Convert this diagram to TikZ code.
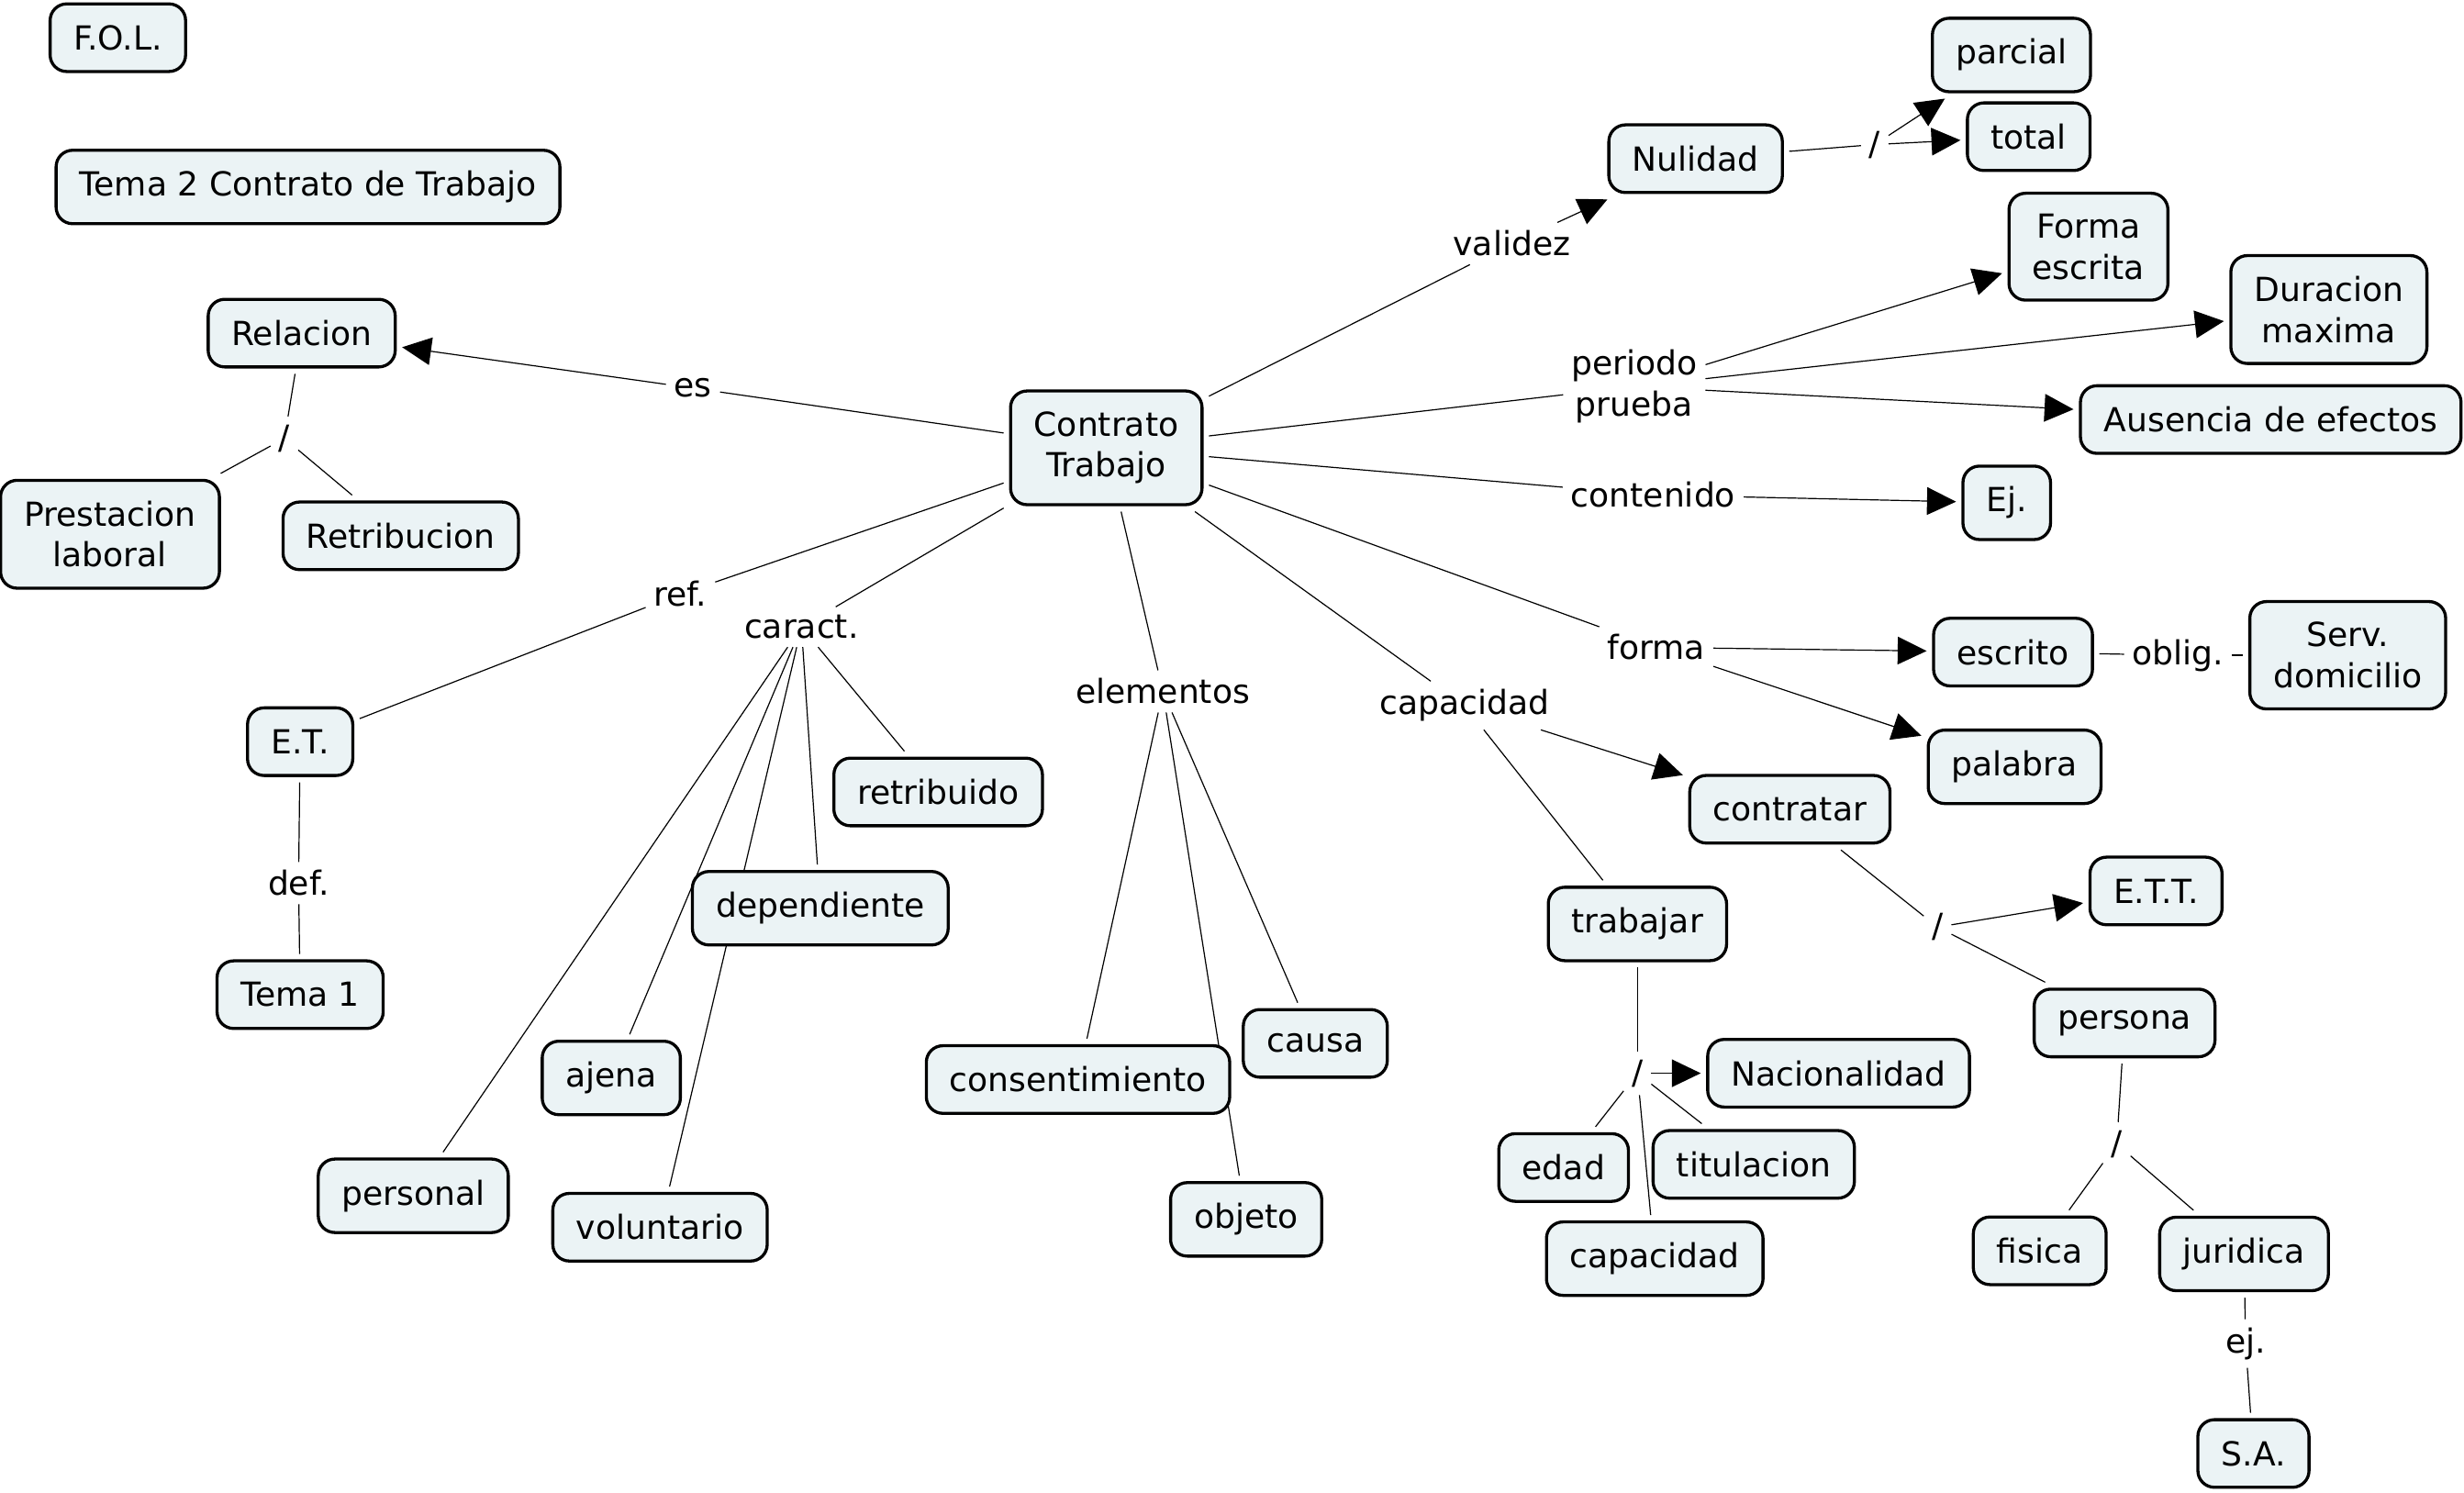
\documentclass[tikz,border=0pt]{standalone}
\usepackage{fontspec}
\setmainfont{DejaVu Sans}
\usetikzlibrary{arrows.meta,backgrounds}

\definecolor{conceptfill}{RGB}{235,243,245}

\tikzset{concept/.style={draw, rounded corners=6pt, fill=conceptfill,
           line width=1.1pt, inner xsep=8.5pt, inner ysep=7.5pt,
           minimum height=24.5pt, align=center, outer sep=2.5pt},
         linkword/.style={inner sep=2.5pt, align=center},
         arr/.style={-{Triangle[length=10.5pt,width=10pt]}}}

\begin{document}
\begin{tikzpicture}[
    x = 0.02cm, y = -0.02cm,
    line width = 1pt,
    every node/.style = {font = \fontsize{12}{14.8}\selectfont}
  ]
  \useasboundingbox (0,0) rectangle (1568,949.6);
  % concepts
  \node[concept] (fol) at (75,24) {F.O.L.};
  \node[concept] (tema) at (196,119) {Tema 2 Contrato de Trabajo};
  \node[concept] (relacion) at (192,212) {Relacion};
  \node[concept] (prestacion) at (70,340) {Prestacion\\laboral};
  \node[concept] (retribucion) at (255,341) {Retribucion};
  \node[concept] (contrato) at (704,285) {Contrato\\Trabajo};
  \node[concept] (et) at (191,472) {E.T.};
  \node[concept] (tema1) at (191,633) {Tema 1};
  \node[concept] (retribuido) at (597,504) {retribuido};
  \node[concept] (dependiente) at (522,578) {dependiente};
  \node[concept] (ajena) at (389,686) {ajena};
  \node[concept] (personal) at (263,761) {personal};
  \node[concept] (voluntario) at (420,781) {voluntario};
  \node[concept] (consentimiento) at (686,687) {consentimiento};
  \node[concept] (causa) at (837,664) {causa};
  \node[concept] (objeto) at (793,776) {objeto};
  \node[concept] (nulidad) at (1079,101) {Nulidad};
  \node[concept] (parcial) at (1280,35) {parcial};
  \node[concept] (total) at (1291,87) {total};
  \node[concept] (formaescrita) at (1329,157) {Forma\\escrita};
  \node[concept] (duracion) at (1482,197) {Duracion\\maxima};
  \node[concept] (ausencia) at (1445,267) {Ausencia de efectos};
  \node[concept] (ej) at (1277,320) {Ej.};
  \node[concept] (escrito) at (1281,415) {escrito};
  \node[concept] (serv) at (1494,417) {Serv.\\domicilio};
  \node[concept] (palabra) at (1282,488) {palabra};
  \node[concept] (contratar) at (1139,515) {contratar};
  \node[concept] (ett) at (1372,567) {E.T.T.};
  \node[concept] (trabajar) at (1042,588) {trabajar};
  \node[concept] (persona) at (1352,651) {persona};
  \node[concept] (nacionalidad) at (1170,683) {Nacionalidad};
  \node[concept] (edad) at (995,743) {edad};
  \node[concept] (titulacion) at (1116,741) {titulacion};
  \node[concept] (capacidad) at (1053,801) {capacidad};
  \node[concept] (fisica) at (1298,796) {fisica};
  \node[concept] (juridica) at (1428,798) {juridica};
  \node[concept] (sa) at (1434,925) {S.A.};
  % linking words
  \node[linkword] (es) at (441,247) {es};
  \node[linkword] (o1) at (181,279) {/};
  \node[linkword] (ref) at (433,378) {ref.};
  \node[linkword] (def) at (190,562) {def.};
  \node[linkword] (caract) at (510,399) {caract.};
  \node[linkword] (elementos) at (740,440) {elementos};
  \node[linkword] (capw) at (932,449) {capacidad};
  \node[linkword] (forma) at (1054,412) {forma};
  \node[linkword] (oblig) at (1386,417) {oblig.};
  \node[linkword] (contenido) at (1052,315) {contenido};
  \node[linkword] (periodo) at (1040,246) {periodo\\prueba};
  \node[linkword] (validez) at (962,155) {validez};
  \node[linkword] (o2) at (1193,92) {/};
  \node[linkword] (o3) at (1233,590) {/};
  \node[linkword] (o4) at (1347,728) {/};
  \node[linkword] (o5) at (1042,683) {/};
  \node[linkword] (ejw) at (1429,855) {ej.};
  % connectors
  \begin{pgfonlayer}{background}
    \fill[white] (0,0) rectangle (1568,949.6);
    \draw (contrato) -- (es);
    \draw[arr] (es) -- (relacion);
    \draw (relacion) -- (o1);
    \draw (o1) -- (prestacion);
    \draw (o1) -- (retribucion);
    \draw (contrato) -- (ref);
    \draw (ref) -- (et);
    \draw (et) -- (def);
    \draw (def) -- (tema1);
    \draw (contrato) -- (caract);
    \foreach \n in {retribuido, dependiente, ajena, personal, voluntario}
      \draw (caract) -- (\n);
    \draw (contrato) -- (elementos);
    \foreach \n in {consentimiento, causa, objeto}
      \draw (elementos) -- (\n);
    \draw (contrato) -- (capw);
    \draw[arr] (capw) -- (contratar);
    \draw (capw) -- (trabajar);
    \draw (contratar) -- (o3);
    \draw[arr] (o3) -- (ett);
    \draw (o3) -- (persona);
    \draw (persona) -- (o4);
    \draw (o4) -- (fisica);
    \draw (o4) -- (juridica);
    \draw (juridica) -- (ejw);
    \draw (ejw) -- (sa);
    \draw (trabajar) -- (o5);
    \draw[arr] (o5) -- (nacionalidad);
    \foreach \n in {edad, titulacion, capacidad}
      \draw (o5) -- (\n);
    \draw (contrato) -- (forma);
    \draw[arr] (forma) -- (escrito);
    \draw[arr] (forma) -- (palabra);
    \draw (escrito) -- (oblig);
    \draw (oblig) -- (serv);
    \draw (contrato) -- (contenido);
    \draw[arr] (contenido) -- (ej);
    \draw (contrato) -- (periodo);
    \foreach \n in {formaescrita, duracion, ausencia}
      \draw[arr] (periodo) -- (\n);
    \draw (contrato) -- (validez);
    \draw[arr] (validez) -- (nulidad);
    \draw (nulidad) -- (o2);
    \draw[arr] (o2) -- (parcial);
    \draw[arr] (o2) -- (total);
  \end{pgfonlayer}
\end{tikzpicture}
\end{document}
